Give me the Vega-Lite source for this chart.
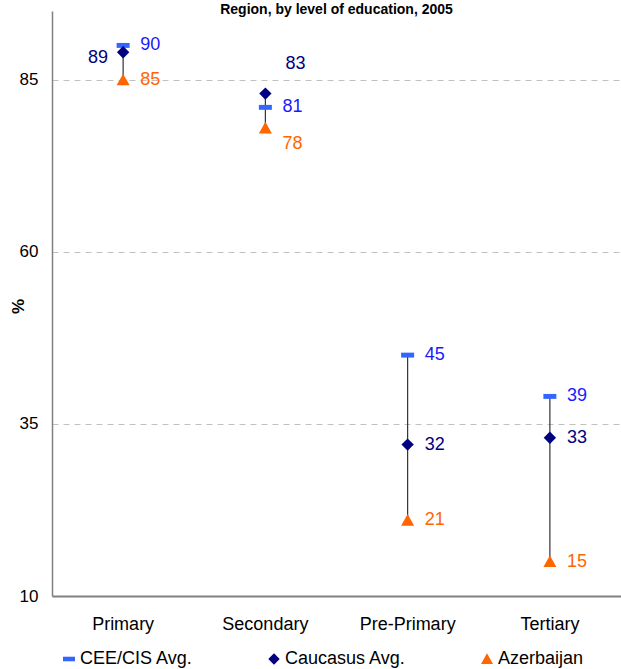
{
  "$schema": "https://vega.github.io/schema/vega-lite/v6.json",
  "width": 569,
  "height": 585,
  "autosize": {"type": "none"},
  "padding": {"left": 52, "top": 11, "right": 0, "bottom": 73},
  "background": "white",
  "title": {
    "text": "Region, by level of education, 2005",
    "font": "Liberation Sans",
    "fontSize": 14,
    "fontWeight": "bold",
    "color": "black",
    "anchor": "middle",
    "frame": "group",
    "baseline": "alphabetic",
    "offset": 1,
    "dy": 18
  },
  "config": {
    "view": {"stroke": null},
    "font": "Liberation Sans",
    "axis": {"labelFont": "Liberation Sans", "titleFont": "Liberation Sans"}
  },
  "data": {
    "values": [
      {"level": "Primary", "series": "CEE/CIS Avg.", "value": 90},
      {"level": "Primary", "series": "Caucasus Avg.", "value": 89},
      {"level": "Primary", "series": "Azerbaijan", "value": 85},
      {"level": "Secondary", "series": "CEE/CIS Avg.", "value": 81},
      {"level": "Secondary", "series": "Caucasus Avg.", "value": 83},
      {"level": "Secondary", "series": "Azerbaijan", "value": 78},
      {"level": "Pre-Primary", "series": "CEE/CIS Avg.", "value": 45},
      {"level": "Pre-Primary", "series": "Caucasus Avg.", "value": 32},
      {"level": "Pre-Primary", "series": "Azerbaijan", "value": 21},
      {"level": "Tertiary", "series": "CEE/CIS Avg.", "value": 39},
      {"level": "Tertiary", "series": "Caucasus Avg.", "value": 33},
      {"level": "Tertiary", "series": "Azerbaijan", "value": 15}
    ]
  },
  "encoding": {
    "x": {
      "field": "level",
      "type": "nominal",
      "sort": ["Primary", "Secondary", "Pre-Primary", "Tertiary"],
      "scale": {"paddingInner": 0, "paddingOuter": 0},
      "axis": {
        "title": null,
        "labelAngle": 0,
        "labelFontSize": 18,
        "labelColor": "black",
        "labelPadding": 19,
        "ticks": false,
        "domainColor": "#808080",
        "domainWidth": 2,
        "grid": false
      }
    },
    "y": {
      "field": "value",
      "type": "quantitative",
      "scale": {"domain": [10, 95], "nice": false, "zero": false},
      "axis": {
        "title": "%",
        "titleFontSize": 17,
        "titleFontWeight": "bold",
        "titleColor": "black",
        "titleX": -34,
        "titleY": 295,
        "titleAlign": "center",
        "titleBaseline": "middle",
        "values": [10, 35, 60, 85],
        "labelFontSize": 17,
        "labelColor": "black",
        "labelPadding": 14,
        "ticks": false,
        "domainColor": "#808080",
        "domainWidth": 1.5,
        "grid": true,
        "gridDash": [6, 5],
        "gridColor": "#c0c0c0",
        "gridWidth": 1
      }
    }
  },
  "layer": [
    {
      "mark": {"type": "rule", "color": "#333333", "strokeWidth": 1.2},
      "encoding": {
        "y": {"aggregate": "min", "field": "value", "type": "quantitative"},
        "y2": {"aggregate": "max", "field": "value"}
      }
    },
    {
      "mark": {"type": "point", "filled": true, "opacity": 1, "size": 169},
      "encoding": {
        "color": {
          "field": "series",
          "type": "nominal",
          "scale": {
            "domain": ["CEE/CIS Avg.", "Caucasus Avg.", "Azerbaijan"],
            "range": ["#3366ff", "#000080", "#ff6600"]
          },
          "legend": {
            "title": null,
            "orient": "none",
            "legendX": 8,
            "legendY": 639,
            "direction": "horizontal",
            "columnPadding": 72,
            "labelFontSize": 18,
            "labelColor": "black",
            "labelOffset": 2,
            "symbolSize": 144,
            "symbolStrokeWidth": 0
          }
        },
        "shape": {
          "field": "series",
          "type": "nominal",
          "scale": {
            "domain": ["CEE/CIS Avg.", "Caucasus Avg.", "Azerbaijan"],
            "range": [
              "M-1,-0.38L1,-0.38L1,0.38L-1,0.38Z",
              "M0,-0.95L0.95,0L0,0.95L-0.95,0Z",
              "M0,-0.95L1,0.85L-1,0.85Z"
            ]
          },
          "legend": {
            "title": null,
            "orient": "none",
            "legendX": 8,
            "legendY": 639,
            "direction": "horizontal",
            "columnPadding": 72,
            "labelFontSize": 18,
            "labelColor": "black",
            "labelOffset": 2,
            "symbolSize": 144,
            "symbolStrokeWidth": 0
          }
        }
      }
    },
    {
      "transform": [{"filter": "datum.series == 'CEE/CIS Avg.'"}],
      "mark": {"type": "text", "align": "left", "baseline": "middle", "dx": 17, "fontSize": 18, "font": "Liberation Sans", "color": "#1a1aff"},
      "encoding": {"text": {"field": "value", "type": "quantitative"}}
    },
    {
      "transform": [{"filter": "datum.series == 'Caucasus Avg.' && (datum.level == 'Pre-Primary' || datum.level == 'Tertiary')"}],
      "mark": {"type": "text", "align": "left", "baseline": "middle", "dx": 17, "fontSize": 18, "font": "Liberation Sans", "color": "#000080"},
      "encoding": {"text": {"field": "value", "type": "quantitative"}}
    },
    {
      "transform": [{"filter": "datum.level == 'Primary' && datum.series == 'Caucasus Avg.'"}],
      "mark": {"type": "text", "align": "right", "baseline": "middle", "dx": -15, "dy": 6, "fontSize": 18, "font": "Liberation Sans", "color": "#000080"},
      "encoding": {"text": {"field": "value", "type": "quantitative"}}
    },
    {
      "transform": [{"filter": "datum.level == 'Secondary' && datum.series == 'Caucasus Avg.'"}],
      "mark": {"type": "text", "align": "left", "baseline": "middle", "dx": 20, "dy": -30, "fontSize": 18, "font": "Liberation Sans", "color": "#000080"},
      "encoding": {"text": {"field": "value", "type": "quantitative"}}
    },
    {
      "transform": [{"filter": "datum.series == 'Azerbaijan' && datum.level != 'Secondary'"}],
      "mark": {"type": "text", "align": "left", "baseline": "middle", "dx": 17, "fontSize": 18, "font": "Liberation Sans", "color": "#ff6600"},
      "encoding": {"text": {"field": "value", "type": "quantitative"}}
    },
    {
      "transform": [{"filter": "datum.level == 'Secondary' && datum.series == 'Azerbaijan'"}],
      "mark": {"type": "text", "align": "left", "baseline": "middle", "dx": 17, "dy": 16, "fontSize": 18, "font": "Liberation Sans", "color": "#ff6600"},
      "encoding": {"text": {"field": "value", "type": "quantitative"}}
    }
  ]
}
